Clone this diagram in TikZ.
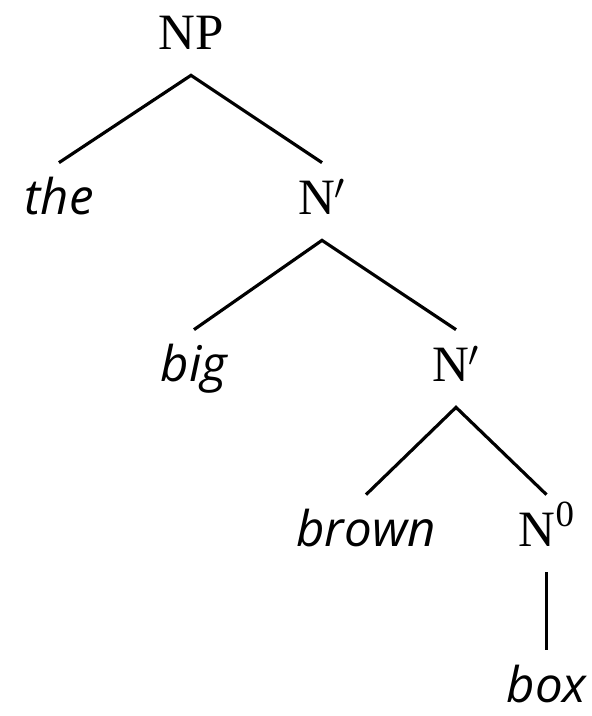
\documentclass[tikz,border=0pt]{standalone}
\usepackage{fontspec}
\setmainfont{Liberation Serif}
\setsansfont{Open Sans}
\usetikzlibrary{positioning}

\begin{document}
\begin{tikzpicture}[
  cat/.style={anchor=base,inner sep=0pt,text height=1.04cm,text depth=0.5cm,
    font=\fontsize{29}{34}\selectfont},
  word/.style={anchor=base,inner sep=0pt,text height=1.04cm,text depth=0.5cm,
    font=\fontsize{28}{34}\selectfont\sffamily\itshape},
  branch/.style={line width=1.8pt}]

  \useasboundingbox (0,0) rectangle (11.84,14.32);

  % ================= nodes (placed at baselines) =================
  \node[cat] (np) at (3.82,13.32) {NP};
  \node[word] (the) at (1.18,10.02) {the};
  \node[cat] (nbar1) at (6.44,10.02) {N$'$};
  \node[word] (big) at (3.88,6.68) {big};
  \node[cat] (nbar2) at (9.12,6.68) {N$'$};
  \node[word] (brown) at (7.32,3.38) {brown};
  \node[cat] (nzero) at (10.93,3.38)
    {N\raisebox{0.4cm}{\fontsize{21}{24}\selectfont 0}};
  \node[word,text depth=0.1cm] (box) at (10.93,0.27) {box};

  % ================= branches =================
  \draw[branch] (the.north) -- (np.south) -- (nbar1.north);
  \draw[branch] (big.north) -- (nbar1.south) -- (nbar2.north);
  \draw[branch] (brown.north) -- (nbar2.south) -- (nzero.north);
  \draw[branch] (nzero.south) -- (box.north);
\end{tikzpicture}
\end{document}
